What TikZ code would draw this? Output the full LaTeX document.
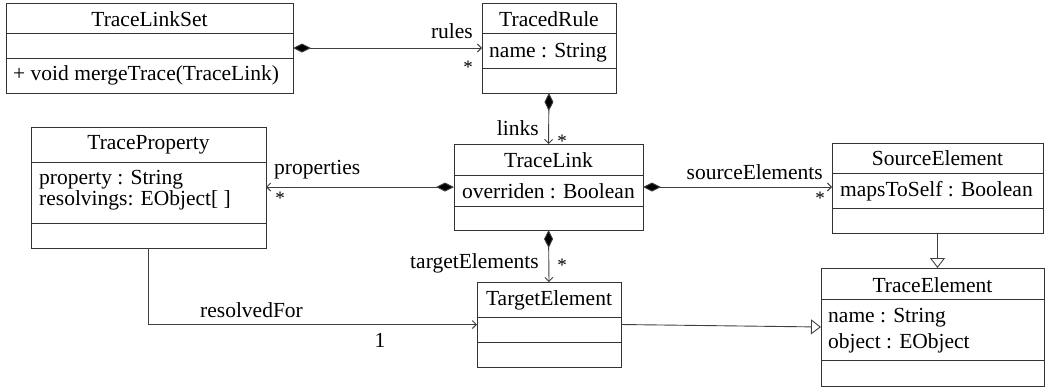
\documentclass[tikz,border=0pt]{standalone}
\usepackage{fontspec}
\setmainfont{Liberation Serif}
\usetikzlibrary{arrows.meta}
\begin{document}
\begin{tikzpicture}[x=1pt,y=-1pt,
  font=\fontsize{21.5}{19}\selectfont,
  cls/.style={draw=black!80, line width=0.9pt, anchor=north west, inner sep=0pt, outer sep=0pt},
  sepline/.style={draw=black!80, line width=0.9pt},
  ttl/.style={anchor=base, inner sep=0pt},
  attr/.style={anchor=base west, inner sep=0pt},
  lbl/.style={anchor=base, inner sep=0pt},
  star/.style={anchor=center, inner sep=0pt, font=\fontsize{19}{19}\selectfont},
  conn/.style={draw=black!75, line width=0.9pt},
  comp/.style={conn, {Diamond[length=18pt,width=9pt,fill=black]}-{Straight Barb[length=4pt,width=8pt]}},
  nav/.style={conn, -{Straight Barb[length=4pt,width=8pt]}},
  gen/.style={conn, -{Triangle[open,length=10pt,width=15pt,fill=white]}}
]
\useasboundingbox (0,0) rectangle (1045,389);

\newcommand\umlbox[7]{%
  \node[cls, minimum width={(#4-#2)*1pt}, minimum height={(#5-#3)*1pt}] (#1) at (#2,#3) {};
  \draw[sepline] (#2,#6) -- (#4,#6);
  \draw[sepline] (#2,#7) -- (#4,#7);
}

\umlbox{tls}{6}{3}{293}{93}{33}{58}
\umlbox{trr}{482}{3}{616}{93}{33}{68}
\umlbox{tpr}{31}{127}{266}{248}{162}{223}
\umlbox{tlk}{454}{144}{643}{230}{175}{206}
\umlbox{src}{832}{143}{1043}{233}{173}{208}
\umlbox{tgt}{477}{282}{621}{367}{317}{342}
\umlbox{tel}{821}{268}{1044}{386}{299}{360}

% texts
\node[ttl] (tlsT) at (149.5,26) {TraceLinkSet};
\node[attr] (tlsO) at (13,80) {+ void mergeTrace(TraceLink)};
\node[ttl] (trrT) at (549,26) {TracedRule};
\node[attr] (trrA) at (489,57) {name : String};
\node[ttl] (tprT) at (148.5,149) {TraceProperty};
\node[attr] (tprA) at (39,184) {property : String};
\node[attr] (tprB) at (39,205) {resolvings: EObject[ ]};
\node[ttl] (tlkT) at (548.5,167) {TraceLink};
\node[attr] (tlkA) at (462,198) {overriden : Boolean};
\node[ttl] (srcT) at (937.5,165) {SourceElement};
\node[attr] (srcA) at (840,196) {mapsToSelf : Boolean};
\node[ttl] (tgtT) at (549,305) {TargetElement};
\node[ttl] (telT) at (932.5,292) {TraceElement};
\node[attr] (telA) at (828,322) {name : String};
\node[attr] (telB) at (828,348) {object : EObject};

% connectors
\draw[comp] (tls.east |- trr.west) -- (trr.west);
\draw[comp] (trr.south) -- (tlk.north);
\draw[comp] (tlk.west) -- (tpr.east |- tlk.west);
\draw[comp] (tlk.east) -- (src.west |- tlk.east);
\draw[comp] (tlk.south) -- (tgt.north);
\draw[nav] (tpr.south) |- (tgt.west);
\draw[gen] (src.south) -- (src.south |- tel.north);
\draw[gen] (tgt.east) -- (tel.west);

% labels
\node[lbl, anchor=base east] (lrules) at (473,38) {rules};
\node[star] (srules) at (468,67) {*};
\node[lbl, anchor=base east] (llinks) at (539,135) {links};
\node[star] (slinks) at (562,141) {*};
\node[lbl, anchor=base west] (lprops) at (274,174) {properties};
\node[star] (sprops) at (280,198) {*};
\node[lbl, anchor=base east] (lsrc) at (823,179) {sourceElements};
\node[star] (ssrc) at (820,198) {*};
\node[lbl, anchor=base east] (ltgt) at (539,268) {targetElements};
\node[star] (stgt) at (562,265) {*};
\node[lbl, anchor=base west] (lres) at (200,317) {resolvedFor};
\node[lbl] (lone) at (380,347) {1};
\end{tikzpicture}
\end{document}
